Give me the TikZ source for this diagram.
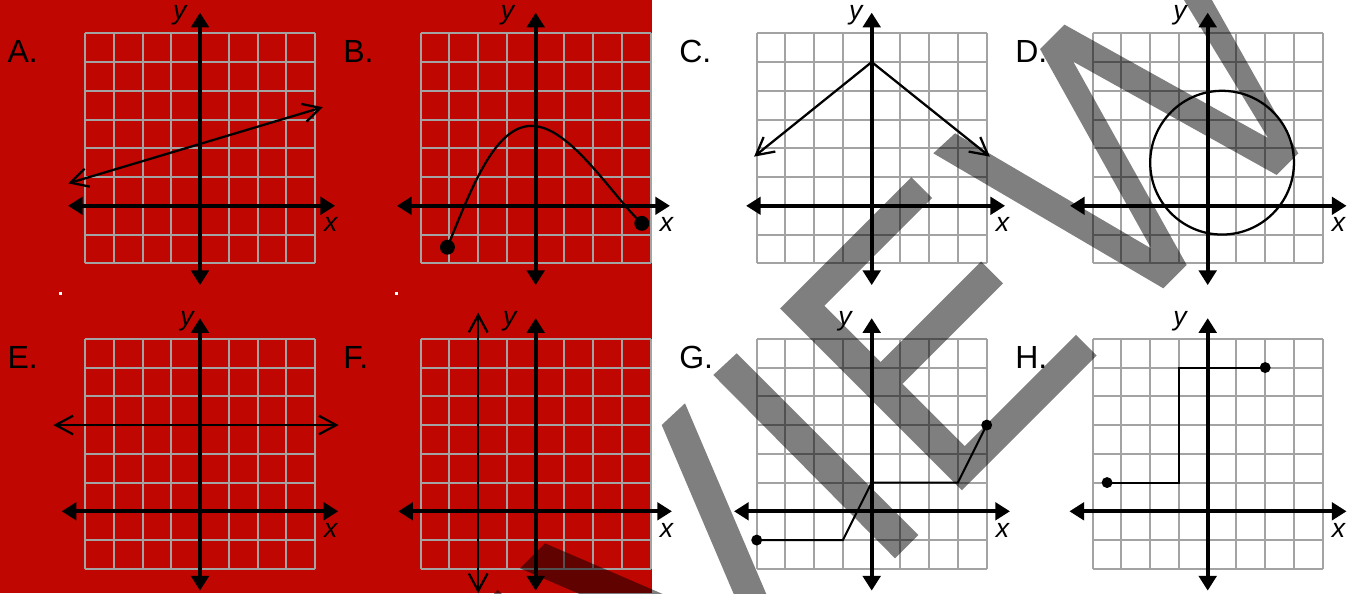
\documentclass[tikz,border=0pt]{standalone}
\usepackage{fontspec}
\setmainfont{Liberation Sans}
\usetikzlibrary{arrows.meta}
\definecolor{sheetred}{RGB}{192,6,0}
\definecolor{gridgray}{RGB}{163,163,163}

\begin{document}
\begin{tikzpicture}[
    x=0.75pt, y=-0.75pt,
    cell/.style={x=21.5625pt, y=21.5625pt},
    gridline/.style={draw=gridgray, line width=1.5pt},
    axis/.style={line width=3.2pt, {Triangle[length=11pt,width=13pt]}-{Triangle[length=11pt,width=13pt]}},
    graph/.style={line width=1.7pt},
    ends/.style={graph, {Straight Barb[length=13pt,width=14pt]}-{Straight Barb[length=13pt,width=14pt]}},
    steps/.style={line width=1.5pt},
    bigdot/.style={circle, fill, inner sep=0pt, minimum size=11.2pt},
    smalldot/.style={circle, fill, inner sep=0pt, minimum size=8.2pt},
    panel/.style={font=\fontsize{24}{24}\selectfont, inner sep=0pt, anchor=base west},
    axlabel/.style={font=\fontsize{20}{20}\selectfont\itshape, inner sep=0pt, anchor=base},
    stamp/.style={fill=black, fill opacity=0.5}
]
\useasboundingbox (0,0) rectangle (1353,593);
\fill[sheetred] (0,0) rectangle (652,593);
\fill[white] (58.5,292) rectangle (61.5,295);
\fill[white] (394.5,292) rectangle (397.5,295);

% grids, axes and labels
\foreach \p/\ox/\oy/\xl/\xr/\yl in {A/200/205.8/-4.59/4.70/-0.70, B/535.7/205.8/-4.83/4.67/-0.98,
    C/871.7/205.8/-4.37/4.64/-0.55, D/1207.7/205.8/-4.79/4.83/-0.96,
    E/200/511.3/-4.81/4.81/-0.45, F/535.7/511.3/-4.78/4.74/-0.90,
    G/871.7/511.3/-4.79/4.81/-0.93, H/1207.7/511.3/-4.81/4.83/-0.96} {
\begin{scope}[shift={(\ox,\oy)}, cell]
    \draw[gridline] (-4,-2) grid[step=1] (4,6);
    \draw[axis] (\xl,0) -- (\xr,0);
    \draw[axis] (0,-2.76) -- (0,6.72);
    \node[panel]   (lab\p) at (-6.70,4.97) {\p.};
    \node[axlabel] (x\p)   at (4.55,-0.9) {x};
    \node[axlabel] (y\p)   at (\yl,6.47) {y};
\end{scope}
}

% A: line
\begin{scope}[shift={(200,205.8)}, cell]
    \coordinate (a1) at (-4.58,0.78);
    \coordinate (a2) at (4.27,3.43);
    \draw[ends] (a1) -- (a2);
\end{scope}

% B: curve between two dots
\begin{scope}[shift={(535.7,205.8)}, cell]
    \node[bigdot] (b1) at (-3.07,-1.44) {};
    \node[bigdot] (b2) at (3.69,-0.61) {};
    \coordinate (b0) at (-0.14,2.78);
    \draw[graph] (b1.center) .. controls (-2.2,0.72) and (-1.4,2.78) .. (b0)
        .. controls (1.2,2.78) and (2.69,0.31) .. (b2.center);
\end{scope}

% C: two rays
\begin{scope}[shift={(871.7,205.8)}, cell]
    \coordinate (c0) at (0,5);
    \coordinate (c1) at (-4.09,1.71);
    \coordinate (c2) at (4.11,1.71);
    \draw[ends] (c1) -- (c0) -- (c2);
\end{scope}

% D: circle
\begin{scope}[shift={(1207.7,205.8)}, cell]
    \coordinate (d0) at (0.5,1.5);
    \draw[graph] (d0) circle[radius=2.5];
\end{scope}

% E: horizontal line
\begin{scope}[shift={(200,511.3)}, cell]
    \coordinate (e1) at (-5.1,3);
    \coordinate (e2) at (4.82,3);
    \draw[ends] (e1) -- (e2);
\end{scope}

% F: vertical line
\begin{scope}[shift={(535.7,511.3)}, cell]
    \coordinate (f1) at (-2,-2.85);
    \coordinate (f2) at (-2,6.91);
    \draw[ends] (f1) -- (f2);
\end{scope}

% G: piecewise
\begin{scope}[shift={(871.7,511.3)}, cell]
    \node[smalldot] (g1) at (-4,-1) {};
    \node[smalldot] (g2) at (4,3) {};
    \draw[steps] (g1.center) -- (-1,-1) -- (0,1) -- (3,1) -- (g2.center);
\end{scope}

% H: step
\begin{scope}[shift={(1207.7,511.3)}, cell]
    \node[smalldot] (h1) at (-3.5,1) {};
    \node[smalldot] (h2) at (2,5) {};
    \draw[steps] (h1.center) -- (-1,1) -- (-1,5) -- (h2.center);
\end{scope}

% watermark letters
\begin{scope}[shift={(-413.5,412.5)}]
    \fill[stamp] (780.1,308.4) -- (911.25,177.25) -- (932,198) -- (824.25,305.75) -- (880.5,362)
        -- (981.1,261.4) -- (1003,283.3) -- (902.4,383.9) -- (964.65,446.15) -- (1076,334.8)
        -- (1096.7,355.5) -- (961.95,490.25) -- cycle;
\end{scope}
\fill[stamp] (520,568.3) -- (545,543.3) -- (749.7,631.5) -- (661.7,425) -- (685,403.3)
    -- (808.3,692.6) -- cycle;
\fill[stamp] (713.3,375) -- (736.7,353.3) -- (918.3,535) -- (895,558.3) -- cycle;
\fill[stamp] (780.1,308.4) -- (911.25,177.25) -- (932,198) -- (824.25,305.75) -- (880.5,362)
    -- (981.1,261.4) -- (1003,283.3) -- (902.4,383.9) -- (964.65,446.15) -- (1076,334.8)
    -- (1096.7,355.5) -- (961.95,490.25) -- cycle;
\fill[stamp] (933.3,153.3) -- (1163.3,288.3) -- (1186.7,265) -- (1073.3,61.7) -- (1276.7,175)
    -- (1298.3,153.3) -- (1167.6,-78.6) -- (1148,-59) -- (1268,138) -- (1064.4,24.6)
    -- (1040,49) -- (1151.2,248.5) -- (955,133.3) -- cycle;
\end{tikzpicture}
\end{document}
